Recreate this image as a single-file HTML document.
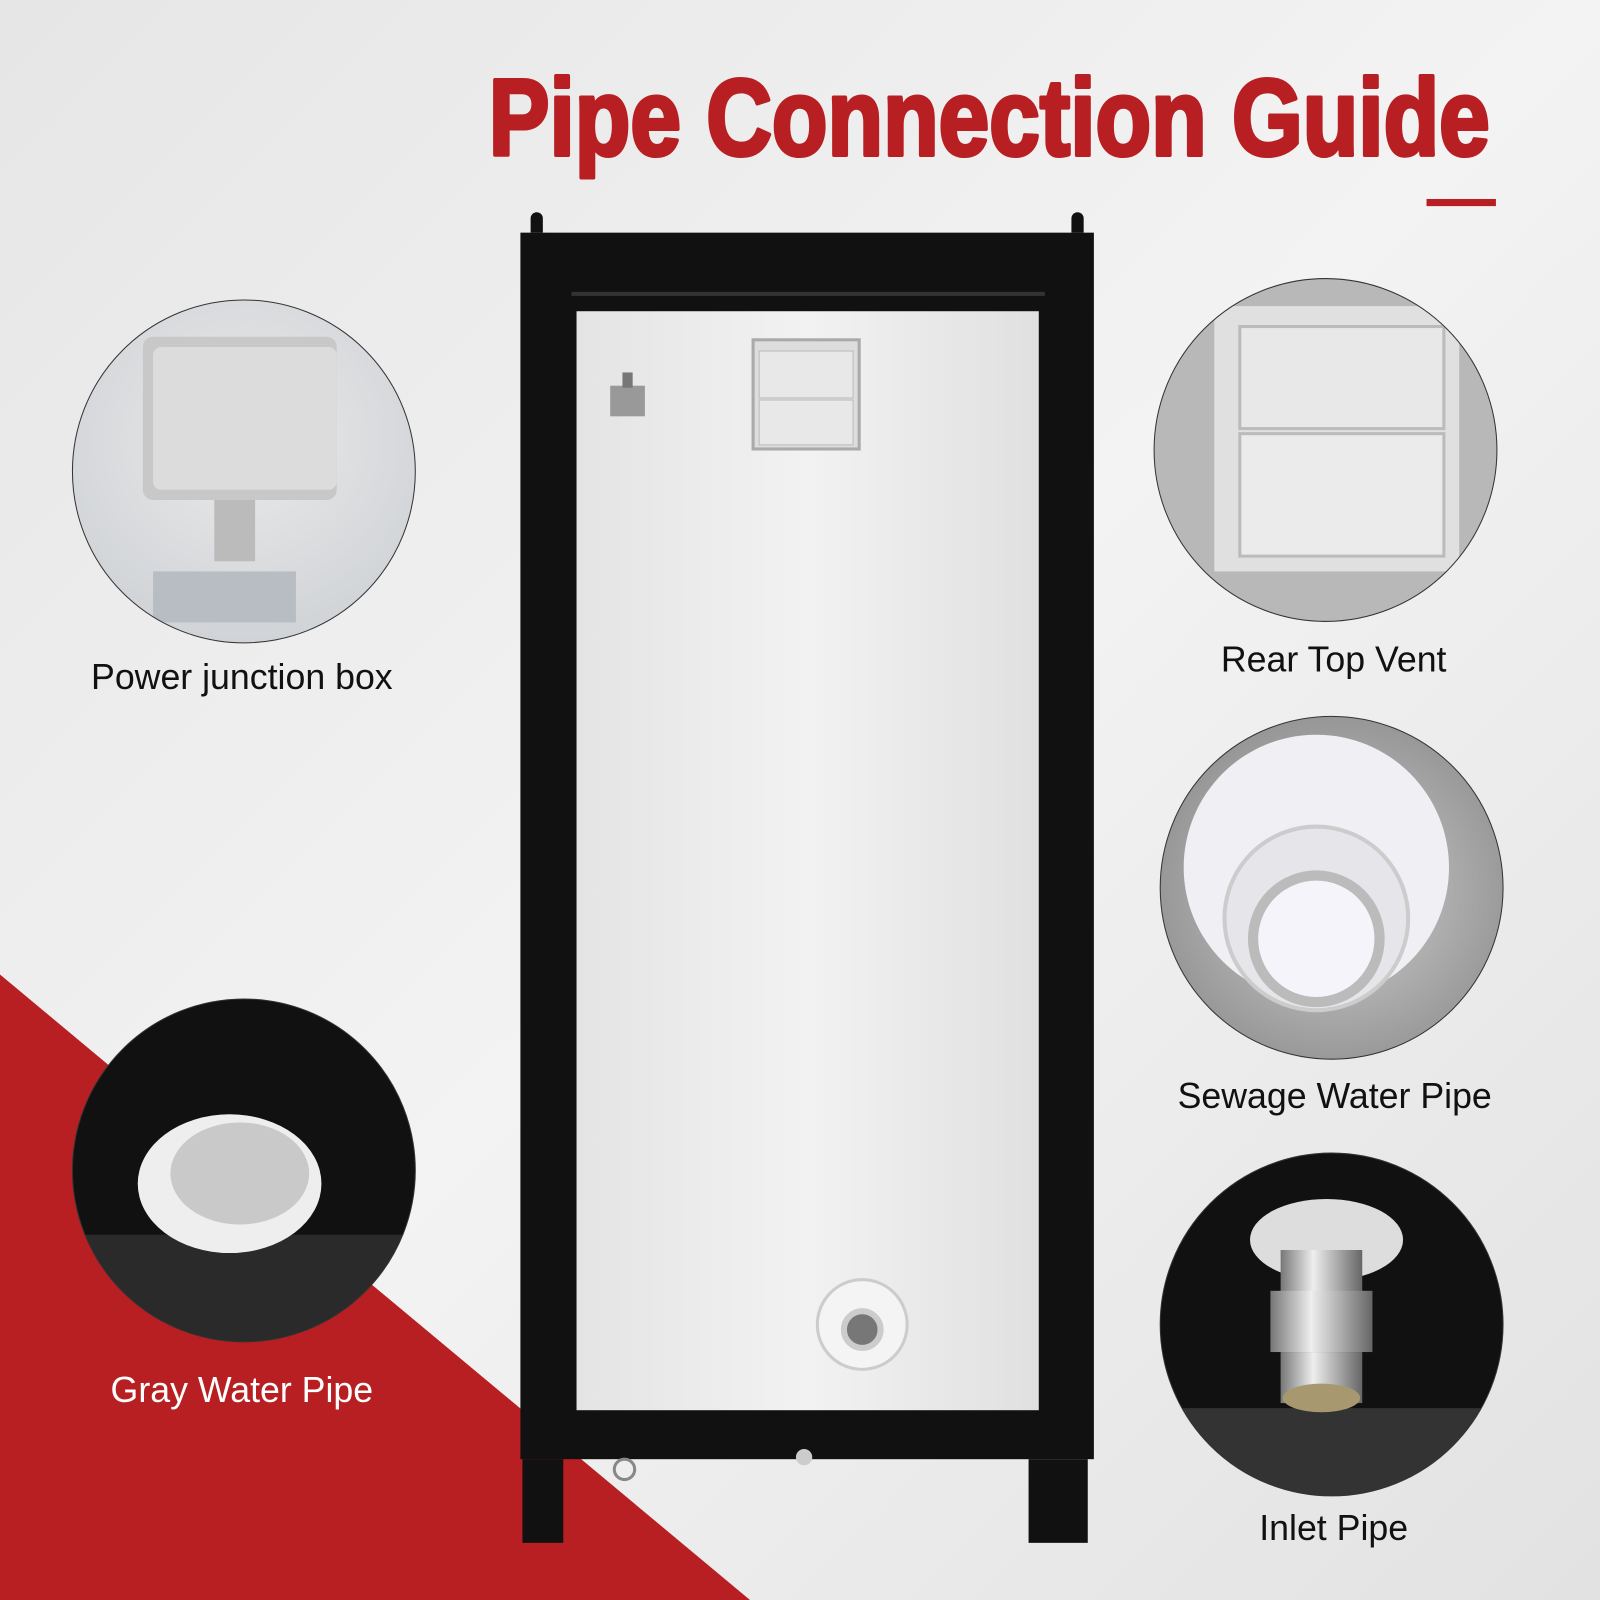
<!DOCTYPE html>
<html><head><meta charset="utf-8"><style>
html,body{margin:0;padding:0;width:1600px;height:1600px;overflow:hidden;background:#eee}
svg{display:block}
text{font-family:"Liberation Sans",sans-serif}
</style></head><body>
<svg width="1600" height="1600" viewBox="0 0 1568 1568" xmlns="http://www.w3.org/2000/svg">
<defs>
<linearGradient id="bg" x1="0" y1="0" x2="1" y2="1"><stop offset="0" stop-color="#e6e6e6"/><stop offset="0.5" stop-color="#f3f3f3"/><stop offset="1" stop-color="#e2e2e2"/></linearGradient>
<linearGradient id="panel" x1="0" y1="0" x2="1" y2="0"><stop offset="0" stop-color="#e4e4e4"/><stop offset="0.5" stop-color="#f2f2f2"/><stop offset="1" stop-color="#e0e0e0"/></linearGradient>
<radialGradient id="jb" cx="0.5" cy="0.4" r="0.6"><stop offset="0" stop-color="#eaeaea"/><stop offset="1" stop-color="#cfd2d6"/></radialGradient>
<radialGradient id="sew" cx="0.5" cy="0.5" r="0.6"><stop offset="0" stop-color="#d0d0d0"/><stop offset="1" stop-color="#8a8a8a"/></radialGradient>
<linearGradient id="metal" x1="0" y1="0" x2="1" y2="0"><stop offset="0" stop-color="#777"/><stop offset="0.4" stop-color="#eee"/><stop offset="1" stop-color="#666"/></linearGradient>
<clipPath id="c1"><circle cx="239" cy="462" r="168"/></clipPath>
<clipPath id="c2"><circle cx="1299" cy="441" r="168"/></clipPath>
<clipPath id="c3"><circle cx="1305" cy="870" r="168"/></clipPath>
<clipPath id="c4"><circle cx="239" cy="1147" r="168"/></clipPath>
<clipPath id="c5"><circle cx="1305" cy="1298" r="168"/></clipPath>
</defs>
<rect width="1568" height="1568" fill="url(#bg)"/>
<polygon points="0,955 735,1568 0,1568" fill="#b81f22"/>

<text x="479" y="152" font-size="106" font-weight="bold" fill="#b81f22" stroke="#b81f22" stroke-width="4" stroke-linejoin="round" textLength="981" lengthAdjust="spacingAndGlyphs">Pipe Connection Guide</text>
<rect x="1398" y="195" width="68" height="7" fill="#b81f22"/>

<!-- cabinet -->
<path d="M520,228 v-14 a6,6 0 0 1 12,0 v14 z" fill="#111"/>
<path d="M1050,228 v-14 a6,6 0 0 1 12,0 v14 z" fill="#111"/>
<rect x="510" y="228" width="562" height="1202" fill="#111"/>
<rect x="512" y="1430" width="40" height="82" fill="#111"/>
<rect x="1008" y="1430" width="58" height="82" fill="#111"/>
<rect x="560" y="286" width="464" height="4" fill="#333"/>
<rect x="565" y="305" width="453" height="1077" fill="url(#panel)"/>
<rect x="738" y="333" width="104" height="107" fill="#ddd" stroke="#aaa" stroke-width="3"/>
<rect x="744" y="344" width="92" height="46" fill="#e8e8e8" stroke="#bbb"/>
<rect x="744" y="392" width="92" height="44" fill="#e8e8e8" stroke="#bbb"/>
<rect x="598" y="378" width="34" height="30" fill="#999"/>
<rect x="610" y="365" width="10" height="15" fill="#777"/>
<circle cx="845" cy="1298" r="44" fill="#f4f4f4" stroke="#ccc" stroke-width="3"/>
<circle cx="845" cy="1303" r="18" fill="#777" stroke="#ccc" stroke-width="6"/>
<circle cx="612" cy="1440" r="10" fill="#eee" stroke="#888" stroke-width="3"/>
<circle cx="788" cy="1428" r="8" fill="#ccc"/>

<g clip-path="url(#c1)">
<rect x="60" y="290" width="360" height="350" fill="url(#jb)"/>
<rect x="140" y="330" width="190" height="160" rx="10" fill="#c8c8c8"/>
<rect x="150" y="340" width="180" height="140" rx="8" fill="#dcdcdc"/>
<rect x="210" y="490" width="40" height="60" fill="#bbb"/>
<rect x="150" y="560" width="140" height="50" fill="#b8bdc4"/>
</g>
<circle cx="239" cy="462" r="168" fill="none" stroke="#333" stroke-width="1"/>

<g clip-path="url(#c2)">
<rect x="1120" y="270" width="360" height="350" fill="#b8b8b8"/>
<rect x="1190" y="300" width="240" height="260" fill="#e0e0e0"/>
<rect x="1215" y="320" width="200" height="100" fill="#e8e8e8" stroke="#bbb" stroke-width="3"/>
<rect x="1215" y="425" width="200" height="120" fill="#ebebeb" stroke="#bbb" stroke-width="3"/>
</g>
<circle cx="1299" cy="441" r="168" fill="none" stroke="#333" stroke-width="1"/>

<g clip-path="url(#c3)">
<rect x="1130" y="700" width="360" height="350" fill="url(#sew)"/>
<circle cx="1290" cy="850" r="130" fill="#f0f0f4"/>
<circle cx="1290" cy="900" r="90" fill="#e6e6ea" stroke="#ccc" stroke-width="4"/>
<circle cx="1290" cy="920" r="62" fill="#f4f4fa" stroke="#bbb" stroke-width="10"/>
</g>
<circle cx="1305" cy="870" r="168" fill="none" stroke="#333" stroke-width="1"/>

<g clip-path="url(#c4)">
<rect x="60" y="970" width="360" height="350" fill="#111"/>
<rect x="60" y="1210" width="360" height="120" fill="#2a2a2a"/>
<ellipse cx="225" cy="1160" rx="90" ry="68" fill="#eee"/>
<ellipse cx="235" cy="1150" rx="68" ry="50" fill="#c9c9c9"/>
</g>
<circle cx="239" cy="1147" r="168" fill="none" stroke="#333" stroke-width="1"/>

<g clip-path="url(#c5)">
<rect x="1130" y="1125" width="360" height="350" fill="#111"/>
<rect x="1130" y="1380" width="360" height="100" fill="#333"/>
<ellipse cx="1300" cy="1215" rx="75" ry="40" fill="#ddd"/>
<rect x="1255" y="1225" width="80" height="50" fill="url(#metal)"/>
<rect x="1245" y="1265" width="100" height="60" fill="url(#metal)"/>
<rect x="1255" y="1325" width="80" height="50" fill="url(#metal)"/>
<ellipse cx="1295" cy="1370" rx="38" ry="14" fill="#a89870"/>
</g>
<circle cx="1305" cy="1298" r="168" fill="none" stroke="#333" stroke-width="1"/>

<g font-size="35" text-anchor="middle" fill="#111">
<text x="237" y="675">Power junction box</text>
<text x="1307" y="658">Rear Top Vent</text>
<text x="1308" y="1086">Sewage Water Pipe</text>
<text x="237" y="1374" fill="#fff">Gray Water Pipe</text>
<text x="1307" y="1509">Inlet Pipe</text>
</g>
</svg>
</body></html>
